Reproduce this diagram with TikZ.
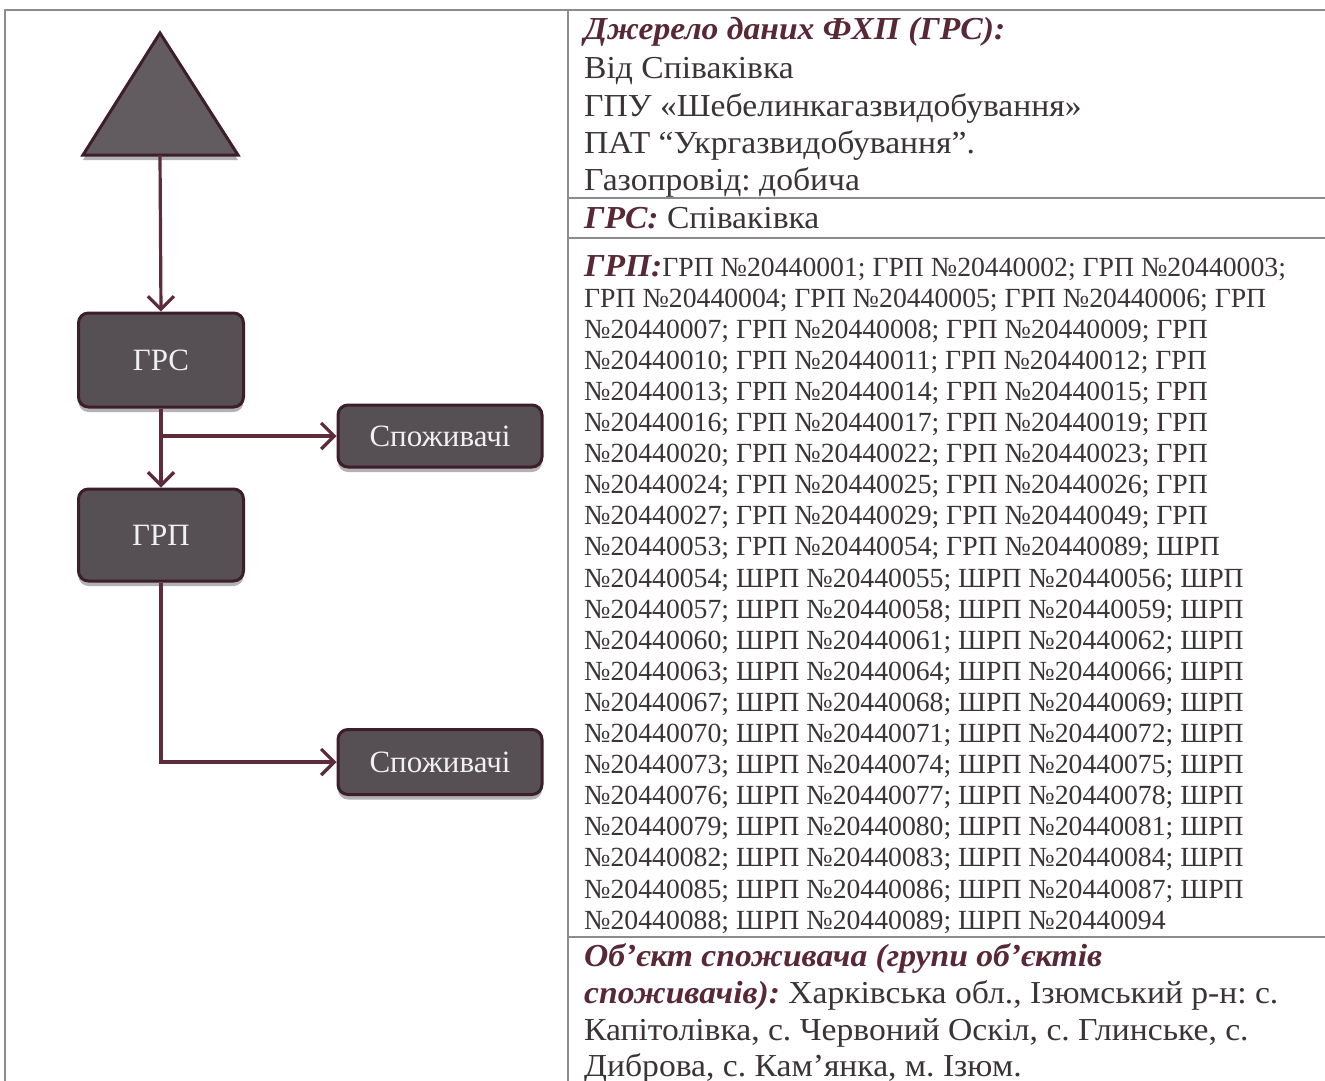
\documentclass[tikz,border=0pt]{standalone}
\usepackage{fontspec}
\setmainfont{Liberation Serif}
\newfontfamily\widefont{Liberation Serif}[FakeStretch=1.05]
\usetikzlibrary{arrows.meta,shadows,calc}
\definecolor{boxfill}{RGB}{86,80,84}
\definecolor{trifill}{RGB}{98,92,96}
\definecolor{boxedge}{RGB}{62,30,42}
\definecolor{arrowc}{RGB}{92,44,58}
\definecolor{rulec}{RGB}{140,140,140}
\definecolor{headc}{RGB}{88,40,54}
\definecolor{bodyc}{RGB}{58,52,54}
\newcommand{\hd}[1]{{\bfseries\itshape\color{headc}#1}}
\begin{document}
\frenchspacing
\begin{tikzpicture}[x=1pt,y=-1pt,
  box/.style={draw=boxedge, line width=3pt, fill=boxfill, rounded corners=10pt,
    text=white!94!black, font=\fontsize{31}{36}\selectfont, inner sep=0pt,
    drop shadow={shadow xshift=0pt, shadow yshift=-5pt, opacity=0.3, fill=black}},
  tri/.style={draw=boxedge, line width=3pt, fill=trifill, line join=miter,
    drop shadow={shadow xshift=0pt, shadow yshift=-5pt, opacity=0.3, fill=black}},
  arr/.style={draw=arrowc, line width=3.2pt, -{Straight Barb[length=13pt,width=26pt]}},
  frame/.style={draw=rulec, line width=2pt},
  txt/.style={anchor=base west, inner sep=0pt, text=bodyc, font=\widefont\fontsize{32}{37}\selectfont},
  lst/.style={anchor=base west, inner sep=0pt, text=bodyc, font=\fontsize{27.7}{31}\selectfont}
]
\useasboundingbox (0,0) rectangle (1325,1081);
\fill[white] (0,0) rectangle (1325,1081);

% table frame
\draw[frame] (5,1081) -- (5,10) -- (1325,10);
\draw[frame] (568,10) -- (568,1081);
\draw[frame] (568,198) -- (1325,198);
\draw[frame] (568,238) -- (1325,238);
\draw[frame] (568,937) -- (1325,937);

% diagram
\coordinate (ta) at (160,33);
\coordinate (tl) at (83,155);
\coordinate (tr) at (238,155);
\coordinate (tb) at (160,155);
\draw[tri] (ta) -- (tr) -- (tl) -- cycle;

\node[box, minimum width=165pt, minimum height=94pt] (grs) at (161,360) {ГРС};
\node[box, minimum width=165pt, minimum height=92pt] (grp) at (161,535) {ГРП};
\node[box, minimum width=204pt, minimum height=62pt] (sp1) at (440,436) {Споживачі};
\node[box, minimum width=204pt, minimum height=65pt] (sp2) at (440,762) {Споживачі};

\draw[arr] (tb) -- (grs.north);
\draw[arr] (grs.south) -- (grp.north);
\draw[arr] (grs.south |- sp1.west) -- (sp1.west);
\draw[arr] (grp.south) |- (sp2.west);

% source section
\node[txt] (s1) at (584,40) {\hd{Джерело даних ФХП (ГРС):}};
\node[txt] (s2) at (584,78) {Від Співаківка};
\node[txt] (s3) at (584,116) {ГПУ «Шебелинкагазвидобування»};
\node[txt] (s4) at (584,153) {ПАТ “Укргазвидобування”.};
\node[txt] (s5) at (584,190) {Газопровід: добича};
\node[txt] (r1) at (584,228) {\hd{ГРС:} Співаківка};

% GRP list
\node[lst] (g1) at (584,276) {{\widefont\fontsize{32}{37}\selectfont\hd{ГРП:}}ГРП №20440001; ГРП №20440002; ГРП №20440003;};
\foreach \t [count=\i from 2] in {
  {ГРП №20440004; ГРП №20440005; ГРП №20440006; ГРП},
  {№20440007; ГРП №20440008; ГРП №20440009; ГРП},
  {№20440010; ГРП №20440011; ГРП №20440012; ГРП},
  {№20440013; ГРП №20440014; ГРП №20440015; ГРП},
  {№20440016; ГРП №20440017; ГРП №20440019; ГРП},
  {№20440020; ГРП №20440022; ГРП №20440023; ГРП},
  {№20440024; ГРП №20440025; ГРП №20440026; ГРП},
  {№20440027; ГРП №20440029; ГРП №20440049; ГРП},
  {№20440053; ГРП №20440054; ГРП №20440089; ШРП},
  {№20440054; ШРП №20440055; ШРП №20440056; ШРП},
  {№20440057; ШРП №20440058; ШРП №20440059; ШРП},
  {№20440060; ШРП №20440061; ШРП №20440062; ШРП},
  {№20440063; ШРП №20440064; ШРП №20440066; ШРП},
  {№20440067; ШРП №20440068; ШРП №20440069; ШРП},
  {№20440070; ШРП №20440071; ШРП №20440072; ШРП},
  {№20440073; ШРП №20440074; ШРП №20440075; ШРП},
  {№20440076; ШРП №20440077; ШРП №20440078; ШРП},
  {№20440079; ШРП №20440080; ШРП №20440081; ШРП},
  {№20440082; ШРП №20440083; ШРП №20440084; ШРП},
  {№20440085; ШРП №20440086; ШРП №20440087; ШРП},
  {№20440088; ШРП №20440089; ШРП №20440094}}
  \node[lst] (g\i) at (584,{276+31.1*(\i-1)}) {\t};

% consumer section
\node[txt] (c1) at (584,966) {\hd{Об’єкт споживача (групи об’єктів}};
\node[txt] (c2) at (584,1003) {\hd{споживачів):} Харківська обл., Ізюмський р-н: с.};
\node[txt] (c3) at (584,1040) {Капітолівка, с. Червоний Оскіл, с. Глинське, с.};
\node[txt] (c4) at (584,1076) {Диброва, с. Кам’янка, м. Ізюм.};
\end{tikzpicture}
\end{document}
